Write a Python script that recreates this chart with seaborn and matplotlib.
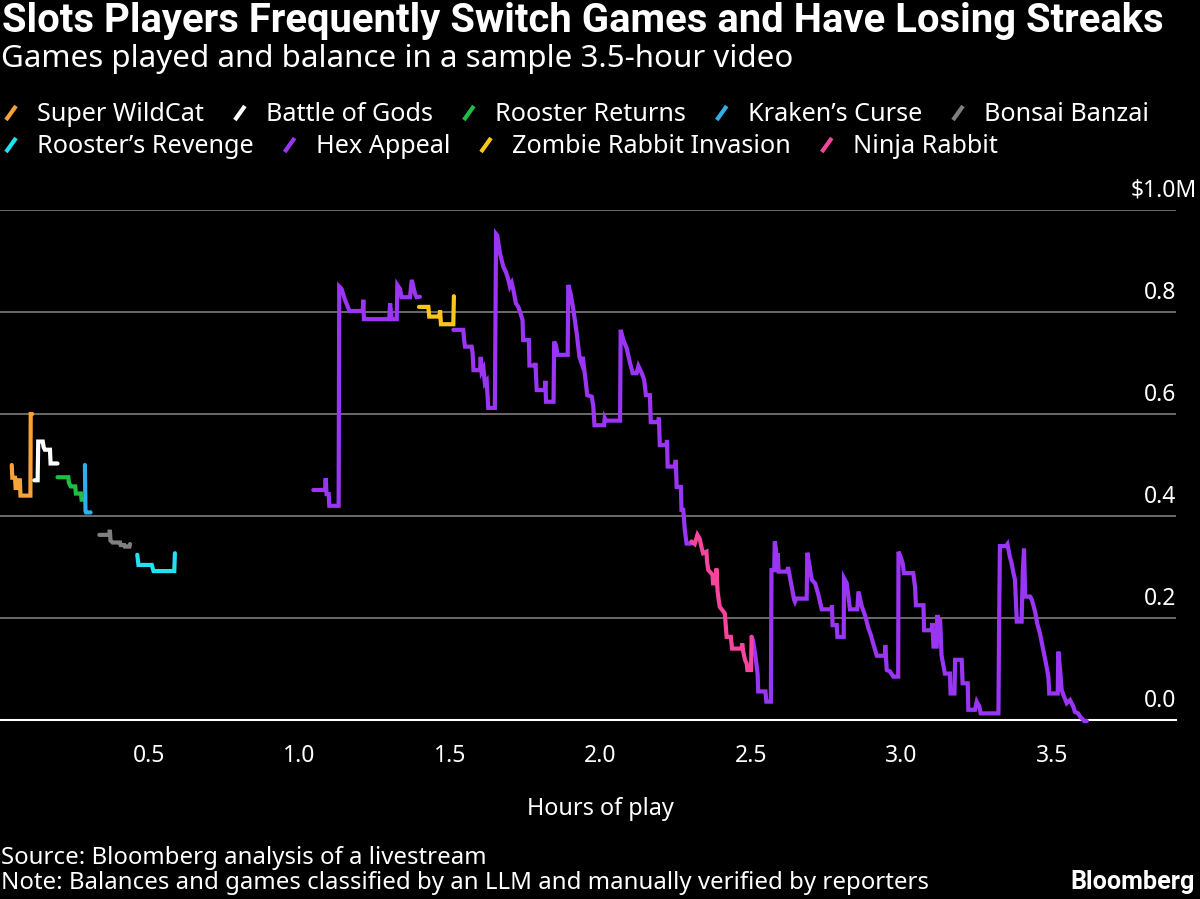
import numpy as np
import pandas as pd
import matplotlib
matplotlib.use("Agg")
import matplotlib.pyplot as plt
import matplotlib.transforms as mtransforms
from matplotlib.lines import Line2D
import seaborn as sns

# ---------------- data (hours of play, balance in $M) ----------------
games = ["Super WildCat", "Battle of Gods", "Rooster Returns", "Kraken\u2019s Curse",
         "Bonsai Banzai", "Rooster\u2019s Revenge", "Hex Appeal",
         "Zombie Rabbit Invasion", "Ninja Rabbit"]
colors = ["#F9A23A", "#FFFFFF", "#1FBF45", "#2EAEEA", "#7F7F7F",
          "#22E2F2", "#9B35F5", "#FFC61A", "#F7449C"]

wildcat_x = [0.044, 0.046, 0.055, 0.057, 0.064, 0.066, 0.071, 0.073, 0.106, 0.107, 0.112]
wildcat_y = [0.500, 0.475, 0.475, 0.455, 0.455, 0.470, 0.470, 0.440, 0.440, 0.600, 0.600]

gods_x = [0.119, 0.130, 0.132, 0.147, 0.150, 0.154, 0.171, 0.173, 0.196]
gods_y = [0.470, 0.470, 0.546, 0.546, 0.535, 0.530, 0.530, 0.503, 0.503]

rooster_ret_x = [0.196, 0.232, 0.234, 0.240, 0.255, 0.257, 0.274, 0.276, 0.284]
rooster_ret_y = [0.476, 0.476, 0.465, 0.458, 0.458, 0.444, 0.444, 0.432, 0.432]

kraken_x = [0.287, 0.289, 0.291, 0.306]
kraken_y = [0.500, 0.410, 0.407, 0.407]

bonsai_x = [0.335, 0.368, 0.370, 0.372, 0.379, 0.404, 0.406, 0.418, 0.420, 0.435, 0.437]
bonsai_y = [0.363, 0.363, 0.373, 0.352, 0.348, 0.348, 0.343, 0.343, 0.340, 0.340, 0.345]

rooster_rev_x = [0.461, 0.465, 0.509, 0.515, 0.584, 0.586]
rooster_rev_y = [0.324, 0.304, 0.304, 0.292, 0.292, 0.327]

hex1_x = [1.046, 1.079, 1.085, 1.087, 1.090, 1.097, 1.099, 1.130, 1.132, 1.140, 1.151,
          1.166, 1.210, 1.212, 1.214, 1.298, 1.301, 1.306, 1.323, 1.325, 1.334, 1.339,
          1.367, 1.373, 1.384, 1.389, 1.400]
hex1_y = [0.451, 0.451, 0.451, 0.474, 0.443, 0.443, 0.420, 0.420, 0.850, 0.845, 0.824,
          0.802, 0.802, 0.824, 0.786, 0.786, 0.817, 0.786, 0.786, 0.853, 0.845, 0.829,
          0.829, 0.863, 0.835, 0.829, 0.830]

zombie_x = [1.397, 1.428, 1.431, 1.461, 1.465, 1.467, 1.470, 1.511, 1.513]
zombie_y = [0.810, 0.810, 0.791, 0.791, 0.791, 0.803, 0.776, 0.776, 0.831]

hex2_x = [1.511, 1.544, 1.547, 1.550, 1.572, 1.575, 1.578, 1.600, 1.602, 1.605, 1.611,
          1.616, 1.622, 1.627, 1.649, 1.653, 1.657, 1.666, 1.677, 1.686, 1.694, 1.699,
          1.705, 1.710, 1.719, 1.727, 1.733, 1.741, 1.743, 1.762, 1.764, 1.782, 1.784,
          1.788, 1.815, 1.817, 1.819, 1.844, 1.846, 1.852, 1.857, 1.891, 1.893, 1.901,
          1.910, 1.921, 1.930, 1.937, 1.941, 1.949, 1.956, 1.971, 1.976, 1.980, 2.012,
          2.014, 2.018, 2.065, 2.067, 2.076, 2.087, 2.098, 2.107, 2.120, 2.126, 2.137,
          2.145, 2.151, 2.164, 2.167, 2.192, 2.194, 2.197, 2.219, 2.221, 2.223, 2.247,
          2.250, 2.253, 2.267, 2.269, 2.275, 2.280, 2.286, 2.302]
hex2_y = [0.765, 0.765, 0.745, 0.732, 0.732, 0.720, 0.686, 0.686, 0.712, 0.683, 0.690,
          0.660, 0.665, 0.612, 0.612, 0.953, 0.950, 0.915, 0.889, 0.878, 0.863, 0.850,
          0.857, 0.845, 0.817, 0.810, 0.800, 0.784, 0.745, 0.745, 0.695, 0.695, 0.700,
          0.647, 0.647, 0.665, 0.624, 0.624, 0.742, 0.735, 0.716, 0.716, 0.853, 0.835,
          0.804, 0.758, 0.712, 0.700, 0.712, 0.673, 0.637, 0.634, 0.615, 0.578, 0.578,
          0.592, 0.587, 0.587, 0.765, 0.745, 0.729, 0.700, 0.680, 0.680, 0.694, 0.680,
          0.667, 0.637, 0.637, 0.584, 0.584, 0.593, 0.539, 0.539, 0.549, 0.497, 0.497,
          0.510, 0.457, 0.457, 0.412, 0.412, 0.373, 0.346, 0.346]

ninja_x = [2.302, 2.313, 2.322, 2.330, 2.335, 2.341, 2.352, 2.354, 2.358, 2.372, 2.374,
           2.383, 2.385, 2.389, 2.396, 2.413, 2.419, 2.433, 2.437, 2.468, 2.471, 2.474,
           2.480, 2.486, 2.488, 2.500, 2.502]
ninja_y = [0.350, 0.345, 0.363, 0.355, 0.340, 0.327, 0.330, 0.310, 0.294, 0.285, 0.268,
           0.268, 0.297, 0.252, 0.222, 0.209, 0.163, 0.163, 0.140, 0.140, 0.150, 0.135,
           0.118, 0.110, 0.098, 0.098, 0.163]

hex3_x = [2.502, 2.507, 2.515, 2.522, 2.524, 2.548, 2.551, 2.566, 2.568, 2.577, 2.579,
          2.583, 2.585, 2.587, 2.588, 2.592, 2.621, 2.623, 2.632, 2.643, 2.646, 2.650,
          2.685, 2.687, 2.690, 2.702, 2.713, 2.724, 2.735, 2.768, 2.769, 2.771, 2.785,
          2.787, 2.808, 2.809, 2.818, 2.829, 2.853, 2.857, 2.868, 2.879, 2.890, 2.898,
          2.906, 2.918, 2.945, 2.946, 2.951, 2.962, 2.973, 2.989, 2.990, 2.997, 3.004,
          3.008, 3.039, 3.045, 3.048, 3.073, 3.075, 3.100, 3.103, 3.106, 3.117, 3.119,
          3.126, 3.128, 3.133, 3.144, 3.161, 3.163, 3.176, 3.178, 3.200, 3.203, 3.220,
          3.222, 3.244, 3.250, 3.259, 3.263, 3.322, 3.324, 3.327, 3.347, 3.352, 3.360,
          3.366, 3.372, 3.377, 3.383, 3.399, 3.403, 3.407, 3.411, 3.427, 3.433, 3.444,
          3.451, 3.460, 3.471, 3.480, 3.488, 3.491, 3.519, 3.521, 3.527, 3.532, 3.540,
          3.549, 3.560, 3.571, 3.576, 3.587, 3.593, 3.607, 3.616]
hex3_y = [0.163, 0.155, 0.124, 0.090, 0.056, 0.056, 0.036, 0.036, 0.294, 0.294, 0.350,
          0.335, 0.294, 0.294, 0.327, 0.291, 0.291, 0.300, 0.272, 0.236, 0.232, 0.238,
          0.238, 0.328, 0.318, 0.275, 0.268, 0.245, 0.217, 0.217, 0.225, 0.186, 0.186,
          0.163, 0.163, 0.278, 0.268, 0.217, 0.217, 0.252, 0.223, 0.205, 0.180, 0.167,
          0.150, 0.126, 0.126, 0.147, 0.098, 0.095, 0.085, 0.085, 0.330, 0.320, 0.307,
          0.288, 0.288, 0.261, 0.225, 0.225, 0.176, 0.176, 0.190, 0.144, 0.144, 0.206,
          0.176, 0.200, 0.127, 0.091, 0.091, 0.052, 0.052, 0.118, 0.118, 0.072, 0.072,
          0.020, 0.020, 0.036, 0.026, 0.013, 0.013, 0.170, 0.341, 0.341, 0.345, 0.320,
          0.307, 0.288, 0.275, 0.193, 0.193, 0.290, 0.336, 0.242, 0.242, 0.236, 0.212,
          0.189, 0.170, 0.137, 0.111, 0.085, 0.052, 0.052, 0.134, 0.098, 0.059, 0.046,
          0.033, 0.039, 0.026, 0.016, 0.013, 0.007, -0.002, -0.002]

segments = [
    ("Super WildCat", wildcat_x, wildcat_y),
    ("Battle of Gods", gods_x, gods_y),
    ("Rooster Returns", rooster_ret_x, rooster_ret_y),
    ("Kraken\u2019s Curse", kraken_x, kraken_y),
    ("Bonsai Banzai", bonsai_x, bonsai_y),
    ("Rooster\u2019s Revenge", rooster_rev_x, rooster_rev_y),
    ("Hex Appeal", hex1_x, hex1_y),
    ("Zombie Rabbit Invasion", zombie_x, zombie_y),
    ("Hex Appeal", hex2_x, hex2_y),
    ("Ninja Rabbit", ninja_x, ninja_y),
    ("Hex Appeal", hex3_x, hex3_y),
]

x_ticks = [0.5, 1.0, 1.5, 2.0, 2.5, 3.0, 3.5]
y_ticks = [0.0, 0.2, 0.4, 0.6, 0.8, 1.0]
y_labels = ["0.0", "0.2", "0.4", "0.6", "0.8", "$1.0M"]

title = "Slots Players Frequently Switch Games and Have Losing Streaks"
subtitle = "Games played and balance in a sample 3.5-hour video"
source = "Source: Bloomberg analysis of a livestream"
note = "Note: Balances and games classified by an LLM and manually verified by reporters"

rows = []
for i, (g, xs, ys) in enumerate(segments):
    for xv, yv in zip(xs, ys):
        rows.append({"hours": xv, "balance": yv, "game": g, "seg": i})
df = pd.DataFrame(rows)

# ---------------- style ----------------
sns.set_style("dark")
FONT = ["Noto Sans", "DejaVu Sans"]
BOLD_FONT = ["Roboto", "Open Sans", "DejaVu Sans"]
plt.rcParams["font.family"] = FONT
plt.rcParams["text.color"] = "white"

W, H = 1200, 899
fig = plt.figure(figsize=(W / 100, H / 100), dpi=100, facecolor="black")
ax = fig.add_axes([0, 1 - 720 / H, 1176 / W, 510 / H])
ax.set_facecolor("black")

palette = dict(zip(games, colors))
sns.lineplot(data=df, x="hours", y="balance", hue="game", units="seg",
             estimator=None, sort=False, hue_order=games, palette=palette,
             linewidth=3.0, legend=False, ax=ax)
for ln in ax.lines:
    ln.set_clip_on(False)
    ln.set_zorder(3)
    ln.set_solid_joinstyle("miter")

ax.set_xlim(1.5 / 301, 1177.5 / 301)
ax.set_ylim(0, 1.0)
ax.set_xlabel("")
ax.set_ylabel("")

ax.set_yticks(y_ticks)
ax.yaxis.grid(True, color="#6a6a6a", linewidth=1.4)
ax.xaxis.grid(False)
ax.tick_params(axis="y", length=0, labelleft=False, labelright=False)

ax.set_xticks(x_ticks)
ax.set_xticklabels([f"{v:.1f}" for v in x_ticks])
ax.tick_params(axis="x", colors="white", length=7.5, width=1.1, pad=10,
               labelsize=16.5, direction="out")
for lab in ax.get_xticklabels():
    lab.set_color("white")

for s in ["top", "left", "right"]:
    ax.spines[s].set_visible(False)
ax.spines["bottom"].set_color("white")
ax.spines["bottom"].set_linewidth(1.5)
ax.spines["bottom"].set_zorder(2.5)

renderer = fig.canvas.get_renderer()

# y labels above the grid lines, right aligned
m_txt = ax.text(0, 0, "M", fontsize=16.5)
m_w = m_txt.get_window_extent(renderer).width
m_txt.remove()
blend = mtransforms.blended_transform_factory(ax.transAxes, ax.transData)
for v, lab in zip(y_ticks, y_labels):
    dx = m_w / 100 if lab.endswith("M") else 0
    off = mtransforms.ScaledTranslation(dx, 13 / 100, fig.dpi_scale_trans)
    ax.text(1.0, v, lab, transform=blend + off, ha="right", va="baseline",
            fontsize=16.5, color="white")


def fit(t, target):
    bb = t.get_window_extent(renderer)
    t.set_fontsize(t.get_fontsize() * target / bb.width)
    return t


def fy(px):
    return 1 - px / H


t = fig.text(2 / W, fy(32), title, fontsize=20, fontweight="bold", color="white",
             ha="left", va="baseline", family=BOLD_FONT)
fit(t, 1160)
t = fig.text(1 / W, fy(67), subtitle, fontsize=20, color="white",
             ha="left", va="baseline")
fit(t, 791)

t = fig.text(600 / W, fy(815), "Hours of play", fontsize=16, color="white",
             ha="center", va="baseline")
fit(t, 147)

t_note = fig.text(1 / W, fy(889), note, fontsize=16, color="white",
                  ha="left", va="baseline")
fit(t_note, 923)
fig.text(1 / W, fy(864), source, fontsize=t_note.get_fontsize(), color="white",
         ha="left", va="baseline")
t = fig.text(1195 / W, fy(889), "Bloomberg", fontsize=16, fontweight="bold",
             color="white", ha="right", va="baseline", family=BOLD_FONT)
fit(t, 125)

# legend: flowing rows of slanted swatches + labels
probe = fig.text(0, 0, "Rooster Returns", fontsize=17)
fit(probe, 191)
leg_fs = probe.get_fontsize()
probe.remove()

legend_rows = [games[:5], games[5:]]
row_base = [121, 153]
for row, base in zip(legend_rows, row_base):
    x = 4
    for g in row:
        col = palette[g]
        fig.add_artist(Line2D([(x + 2) / W, (x + 12) / W], [fy(base - 1), fy(base - 15)],
                              transform=fig.transFigure, color=col, linewidth=3.0,
                              solid_capstyle="butt"))
        tt = fig.text((x + 33) / W, fy(base), g, fontsize=leg_fs, color="white",
                      ha="left", va="baseline")
        w = tt.get_window_extent(renderer).width
        x = x + 33 + w + 29

fig.savefig("out.png", dpi=100, facecolor="black")
